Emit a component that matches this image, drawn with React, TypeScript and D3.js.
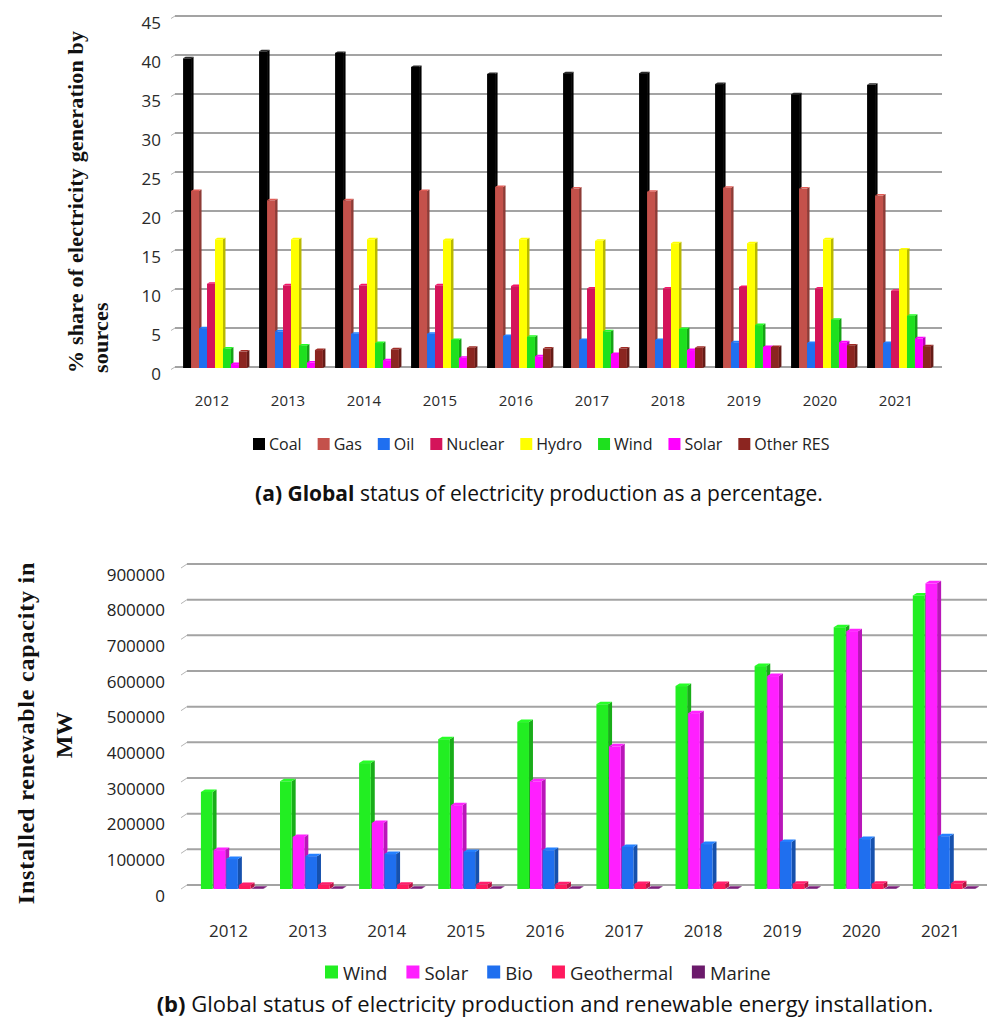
import React from 'react';
import * as d3 from 'd3';

// ---------- Data: chart (a) ----------
const yearsA = ['2012', '2013', '2014', '2015', '2016', '2017', '2018', '2019', '2020', '2021'];
const seriesA = ['Coal', 'Gas', 'Oil', 'Nuclear', 'Hydro', 'Wind', 'Solar', 'Other RES'];
const colorsA = ['#000000', '#c4514b', '#1f6ff0', '#d4145a', '#ffff00', '#1ee01e', '#ff00ff', '#8b2520'];
const coalA = [39.7, 40.6, 40.4, 38.6, 37.7, 37.8, 37.8, 36.4, 35.1, 36.3];
const gasA = [22.7, 21.5, 21.5, 22.7, 23.2, 23.0, 22.6, 23.1, 23.0, 22.1];
const oilA = [5.1, 4.7, 4.4, 4.4, 4.1, 3.6, 3.6, 3.3, 3.2, 3.2];
const nuclearA = [10.8, 10.6, 10.6, 10.6, 10.5, 10.2, 10.2, 10.4, 10.2, 9.9];
const hydroA = [16.5, 16.5, 16.5, 16.4, 16.5, 16.3, 16.0, 16.0, 16.5, 15.2];
const windA = [2.5, 2.9, 3.2, 3.6, 4.0, 4.7, 5.0, 5.5, 6.2, 6.7];
const solarA = [0.5, 0.7, 1.0, 1.3, 1.5, 1.8, 2.3, 2.7, 3.3, 3.8];
const otherResA = [2.1, 2.3, 2.4, 2.6, 2.5, 2.5, 2.6, 2.7, 2.9, 2.8];
const ticksA = [0, 5, 10, 15, 20, 25, 30, 35, 40, 45];

// ---------- Data: chart (b) ----------
const yearsB = ['2012', '2013', '2014', '2015', '2016', '2017', '2018', '2019', '2020', '2021'];
const seriesB = ['Wind', 'Solar', 'Bio', 'Geothermal', 'Marine'];
const colorsB = ['#22ee22', '#ff1fff', '#1f6fef', '#ff1a5e', '#6b1a6b'];
const windB = [272000, 302000, 353000, 420000, 468000, 518000, 569000, 625000, 734000, 823000];
const solarB = [109000, 146000, 185000, 235000, 302000, 400000, 493000, 597000, 723000, 857000];
const bioB = [84000, 92000, 98000, 104000, 109000, 118000, 126000, 132000, 140000, 148000];
const geoB = [11000, 12000, 12000, 13000, 13000, 14000, 14000, 15000, 15000, 16000];
const marineB = [500, 500, 500, 500, 500, 500, 500, 500, 500, 500];
const ticksB = [0, 100000, 200000, 300000, 400000, 500000, 600000, 700000, 800000, 900000];

const valuesA = [coalA, gasA, oilA, nuclearA, hydroA, windA, solarA, otherResA];
const valuesB = [windB, solarB, bioB, geoB, marineB];

const SANS = '"Open Sans", "Noto Sans", sans-serif';
const SERIF = '"Liberation Serif", "Times New Roman", serif';

let _ctx: CanvasRenderingContext2D | null = null;
function measure(text: string, size: number, weight = 'normal', family = SANS) {
  if (!_ctx) _ctx = document.createElement('canvas').getContext('2d');
  if (!_ctx) return text.length * size * 0.55;
  _ctx.font = `${weight} ${size}px ${family}`;
  return _ctx.measureText(text).width;
}

function Bar3D({ x, w, yTop, yBase, d, r, color }: any) {
  const c = d3.color(color)!;
  const side = c.darker(0.9).formatHex();
  const top = color === '#000000' ? '#2a2a2a' : c.brighter(0.4).formatHex();
  return (
    <g>
      <path d={`M${x + w},${yTop} L${x + w + d},${yTop - r} L${x + w + d},${yBase - r} L${x + w},${yBase} Z`} fill={side} />
      <path d={`M${x},${yTop} L${x + d},${yTop - r} L${x + w + d},${yTop - r} L${x + w},${yTop} Z`} fill={top} />
      <rect x={x} y={yTop} width={w} height={Math.max(0, yBase - yTop)} fill={color} />
    </g>
  );
}

function Legend({ names, colors, startX, y, size, sq, gapText, gapItem }: any) {
  let cx = startX;
  const items = names.map((n: string, i: number) => {
    const tw = measure(n, size);
    const g = (
      <g key={n}>
        <rect x={cx} y={y - sq / 2} width={sq} height={sq} fill={colors[i]} />
        <text x={cx + sq + gapText} y={y} dominantBaseline="central" fontFamily={SANS} fontSize={size} fill="#222">{n}</text>
      </g>
    );
    cx += sq + gapText + tw + gapItem;
    return g;
  });
  return <g>{items}</g>;
}

export default function App() {
  // ----- chart (a) scales -----
  const xA = d3.scaleBand().domain(yearsA).range([177, 937]).paddingInner(0.16).paddingOuter(0.08);
  const x1A = d3.scaleBand().domain(seriesA).range([0, xA.bandwidth()]);
  const yA = d3.scaleLinear().domain([0, 45]).range([368, 17]);
  const gridA0 = 175, gridA1 = 942;

  // ----- chart (b) scales -----
  const xB = d3.scaleBand().domain(yearsB).range([193, 984]).paddingInner(0.2).paddingOuter(0.1);
  const x1B = d3.scaleBand().domain(seriesB).range([0, xB.bandwidth()]);
  const yB = d3.scaleLinear().domain([0, 900000]).range([889, 568]);
  const gridB0 = 187, gridB1 = 987;

  return (
    <svg width={987} height={1018} style={{ position: 'absolute', left: 0, top: 0, background: '#fff' }}>
      {/* ================= Chart (a) ================= */}
      <g>
        {ticksA.map((t) => (
          <g key={'ga' + t}>
            <line x1={gridA0} x2={gridA1} y1={yA(t) - 1} y2={yA(t) - 1} stroke="#a3a3a3" strokeWidth={2} />
            <line x1={gridA0 - 4} x2={gridA0} y1={yA(t) + 1.5} y2={yA(t) - 1} stroke="#b5b5b5" strokeWidth={1} />
            <text x={161} y={yA(t) + 5} textAnchor="end" dominantBaseline="central" fontFamily={SANS} fontSize={17} fill="#2a2a2a">{t}</text>
          </g>
        ))}
        {yearsA.map((yr, i) => (
          <g key={'ba' + yr}>
            {seriesA.map((s, j) => (
              <Bar3D key={s} x={(xA(yr) as number) + (x1A(s) as number)} w={x1A.bandwidth()} yTop={yA(valuesA[j][i])} yBase={yA(0)} d={2.5} r={1.5} color={colorsA[j]} />
            ))}
            <text x={(xA(yr) as number) + xA.bandwidth() / 2 - 3} y={400} textAnchor="middle" dominantBaseline="central" fontFamily={SANS} fontSize={15} fill="#2a2a2a">{yr}</text>
          </g>
        ))}
        <g fontFamily={SERIF} fontWeight="bold" fontSize={22} fill="#111">
          <text transform="translate(83,373) rotate(-90)" letterSpacing={0.2}>% share of electricity generation by</text>
          <text transform="translate(108,373) rotate(-90)" letterSpacing={0.2}>sources</text>
        </g>
        <Legend names={seriesA} colors={colorsA} startX={253} y={444} size={16} sq={12} gapText={4} gapItem={16} />
        <text x={539} y={493} textAnchor="middle" dominantBaseline="central" fontFamily={SANS} fontSize={21} fill="#111">
          <tspan fontWeight="bold">(a) Global</tspan> status of electricity production as a percentage.
        </text>
      </g>

      {/* ================= Chart (b) ================= */}
      <g>
        {ticksB.map((t) => (
          <g key={'gb' + t}>
            <line x1={gridB0} x2={gridB1} y1={yB(t) - 4} y2={yB(t) - 4} stroke="#a3a3a3" strokeWidth={2} />
            <line x1={gridB0 - 6} x2={gridB0} y1={yB(t) + 0} y2={yB(t) - 4} stroke="#b5b5b5" strokeWidth={1} />
            <text x={165} y={yB(t) + 6} textAnchor="end" dominantBaseline="central" fontFamily={SANS} fontSize={17} fill="#222">{t}</text>
          </g>
        ))}
        {yearsB.map((yr, i) => (
          <g key={'bb' + yr}>
            {seriesB.map((s, j) => (
              <Bar3D key={s} x={(xB(yr) as number) + (x1B(s) as number)} w={x1B.bandwidth() - 1} yTop={yB(valuesB[j][i])} yBase={yB(0)} d={4} r={2.5} color={colorsB[j]} />
            ))}
            <text x={(xB(yr) as number) + xB.bandwidth() / 2 - 4} y={930} textAnchor="middle" dominantBaseline="central" fontFamily={SANS} fontSize={17} fill="#2a2a2a">{yr}</text>
          </g>
        ))}
        <g fontFamily={SERIF} fontWeight="bold" fontSize={24} fill="#111" textAnchor="middle">
          <text transform="translate(34,733) rotate(-90)" letterSpacing={0.8}>Installed renewable capacity in</text>
          <text transform="translate(72,735) rotate(-90)">MW</text>
        </g>
        <Legend names={seriesB} colors={colorsB} startX={325} y={972} size={18.5} sq={13} gapText={5} gapItem={19} />
        <text x={545} y={1003} textAnchor="middle" dominantBaseline="central" fontFamily={SANS} fontSize={22} fill="#111">
          <tspan fontWeight="bold">(b)</tspan> Global status of electricity production and renewable energy installation.
        </text>
      </g>
    </svg>
  );
}
